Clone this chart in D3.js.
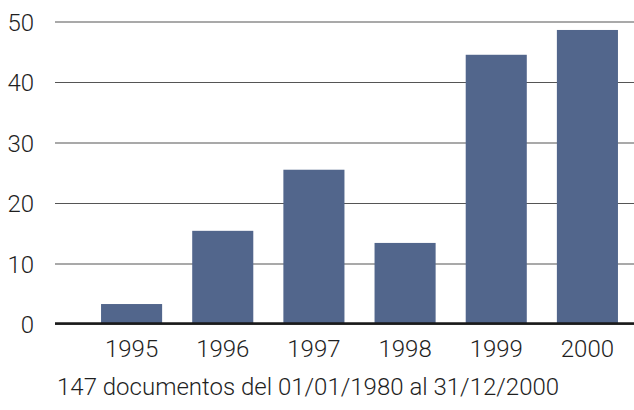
<!DOCTYPE html>
<html>
<head>
<meta charset="utf-8">
<script src="https://cdn.jsdelivr.net/npm/d3@7"></script>
<style>
  html, body { margin: 0; padding: 0; background: #fff; }
  svg text { font-family: Roboto, "Noto Sans", sans-serif; font-weight: 300; fill: #1f1f1f; }
</style>
</head>
<body>
<script>
// datos
const years = ["1995", "1996", "1997", "1998", "1999", "2000"];
const counts = [3.3, 15.4, 25.5, 13.4, 44.5, 48.6];
const yTicks = [0, 10, 20, 30, 40, 50];
const footer = "147 documentos del 01/01/1980 al 31/12/2000";

const width = 634, height = 410;

const svg = d3.select("body").append("svg")
    .attr("width", width)
    .attr("height", height);

const x = d3.scaleBand()
    .domain(years)
    .range([86, 633])
    .paddingInner(0.33)
    .paddingOuter(0.165);

const y = d3.scaleLinear()
    .domain([0, 50])
    .range([324, 21.5]);

// líneas de cuadrícula
const grid = svg.append("g")
    .attr("transform", "translate(55,0)")
    .call(d3.axisLeft(y).tickValues(yTicks).tickSize(-(width - 55)).tickFormat(""));
grid.select(".domain").remove();
grid.selectAll(".tick line")
    .attr("stroke", "#555")
    .attr("stroke-width", 1.2);

// etiquetas eje y
const yAxis = svg.append("g")
    .attr("transform", "translate(34,0)")
    .call(d3.axisLeft(y).tickValues(yTicks).tickSize(0).tickPadding(0));
yAxis.select(".domain").remove();
yAxis.selectAll("text")
    .attr("font-size", 24)
    .attr("dy", "0.36em");

// barras
svg.append("g")
    .selectAll("rect")
    .data(years.map((d, i) => ({ year: d, value: counts[i] })))
    .join("rect")
    .attr("x", d => x(d.year))
    .attr("y", d => y(d.value))
    .attr("width", x.bandwidth())
    .attr("height", d => y(0) - y(d.value))
    .attr("fill", "#52668c");

// línea base
svg.append("line")
    .attr("x1", 55)
    .attr("x2", width)
    .attr("y1", y(0) - 0.5)
    .attr("y2", y(0) - 0.5)
    .attr("stroke", "#1a1a1a")
    .attr("stroke-width", 2.5);

// eje x
const xAxis = svg.append("g")
    .attr("transform", `translate(0,${y(0)})`)
    .call(d3.axisBottom(x).tickSize(0).tickPadding(0));
xAxis.select(".domain").remove();
xAxis.selectAll("text")
    .attr("font-size", 24)
    .attr("dy", "1.37em");

// pie
svg.append("text")
    .attr("x", 57)
    .attr("y", 395)
    .attr("font-size", 24)
    .text(footer);
</script>
</body>
</html>
